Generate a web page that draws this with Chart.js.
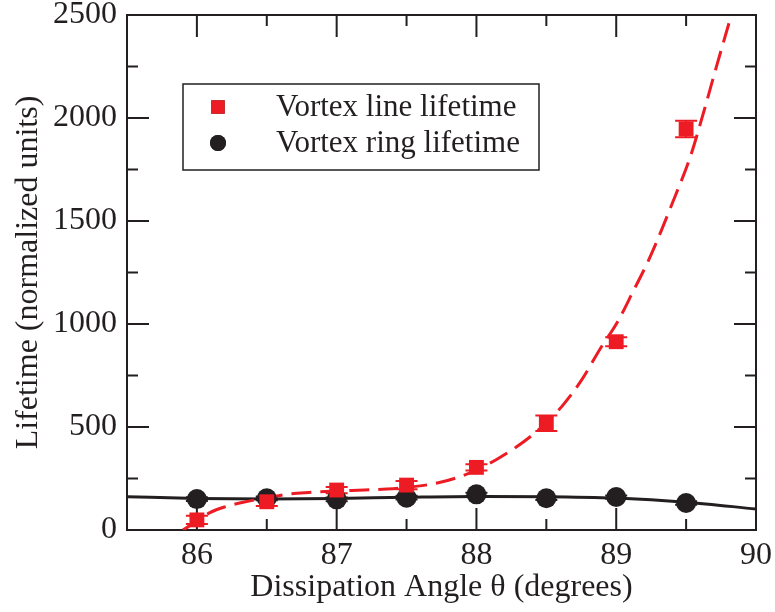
<!DOCTYPE html>
<html>
<head>
<meta charset="utf-8">
<script src="https://cdn.jsdelivr.net/npm/chart.js@4.4.1/dist/chart.umd.min.js"></script>
<style>
html, body { margin: 0; padding: 0; background: #fff; }
</style>
</head>
<body>
<canvas id="chart" width="775" height="612"></canvas>
<script>
// measured points
const angles = [86, 86.5, 87, 87.5, 88, 88.5, 89, 89.5];
const lineLife = [49, 137, 194, 218, 304, 518, 914, 1947];
const lineErr = [20, 20, 15, 20, 15, 38, 22, 40];
const ringLife = [150, 154, 149, 157, 173, 154, 160, 131];
const ringErr = [9, 9, 9, 9, 8, 8, 8, 8];

// fit curves
const lineFitX = [85.90, 86.0, 86.09, 86.2, 86.34, 86.5, 86.64, 86.8, 87.0, 87.2, 87.36, 87.5, 87.72, 87.9, 88.03, 88.15, 88.28, 88.45, 88.61, 88.76, 88.88, 89.01, 89.12, 89.24, 89.42, 89.53, 89.63, 89.72, 89.82, 89.86];
const lineFitY = [0, 42, 83, 112, 136, 156, 173, 182, 189, 194, 199, 207, 228, 263, 301, 345, 400, 490, 599, 736, 874, 1011, 1157, 1322, 1618, 1812, 2039, 2257, 2492, 2590];
const ringFitX = [85.5, 86, 86.5, 87, 87.5, 88, 88.5, 89, 89.5, 90];
const ringFitY = [162, 153, 150, 153, 159, 163, 162, 155, 135, 102];

// axes
const xMajor = [86, 87, 88, 89, 90];
const xMinor = [85.5, 86.5, 87.5, 88.5, 89.5];
const yMajor = [0, 500, 1000, 1500, 2000, 2500];
const yMinor = [250, 750, 1250, 1750, 2250];

const RED = '#ed1c24';
const INK = '#231f20';
const FONT = 'Liberation Serif, Times New Roman, serif';

const pts = (xs, ys) => xs.map((v, i) => ({ x: v, y: ys[i] }));

const frameTicks = {
    id: 'frameTicks',
    beforeDatasetsDraw(chart) {
        const { ctx, chartArea: a, scales: { x, y } } = chart;
        ctx.save();
        ctx.strokeStyle = INK;
        ctx.lineWidth = 2;
        const xt = (vals, len) => vals.forEach(v => {
            const p = x.getPixelForValue(v);
            ctx.beginPath();
            ctx.moveTo(p, a.bottom); ctx.lineTo(p, a.bottom - len);
            ctx.moveTo(p, a.top); ctx.lineTo(p, a.top + len);
            ctx.stroke();
        });
        const yt = (vals, len) => vals.forEach(v => {
            const p = y.getPixelForValue(v);
            ctx.beginPath();
            ctx.moveTo(a.left, p); ctx.lineTo(a.left + len, p);
            ctx.moveTo(a.right, p); ctx.lineTo(a.right - len, p);
            ctx.stroke();
        });
        xt(xMajor, 22); xt(xMinor, 11);
        yt(yMajor, 22); yt(yMinor, 11);
        ctx.strokeRect(a.left, a.top, a.right - a.left, a.bottom - a.top);

        // error bars
        chart.data.datasets.forEach(ds => {
            if (!ds.errors) return;
            ctx.strokeStyle = ds.backgroundColor;
            ctx.lineWidth = 2;
            ds.data.forEach((d, i) => {
                const px = x.getPixelForValue(d.x);
                const lo = y.getPixelForValue(d.y - ds.errors[i]);
                const hi = y.getPixelForValue(d.y + ds.errors[i]);
                const w = ds.capWidth / 2;
                ctx.beginPath();
                ctx.moveTo(px, lo); ctx.lineTo(px, hi);
                ctx.moveTo(px - w, lo); ctx.lineTo(px + w, lo);
                ctx.moveTo(px - w, hi); ctx.lineTo(px + w, hi);
                ctx.stroke();
            });
        });
        ctx.restore();
    },
    afterDraw(chart) {
        const { ctx, chartArea: a } = chart;
        const items = chart.data.datasets.filter(ds => ds.inLegend);
        const bx = a.left + 56, by = a.top + 69, bw = 356, bh = 86;
        ctx.save();
        ctx.fillStyle = '#fff';
        ctx.fillRect(bx, by, bw, bh);
        ctx.strokeStyle = INK;
        ctx.lineWidth = 1.5;
        ctx.strokeRect(bx, by, bw, bh);
        ctx.font = '31px ' + FONT;
        ctx.textBaseline = 'middle';
        ctx.fillStyle = INK;
        items.forEach((ds, i) => {
            const cy = by + 23 + i * 36;
            Chart.helpers.drawPoint(ctx, {
                pointStyle: ds.pointStyle,
                radius: ds.legendRadius,
                borderWidth: 0,
                rotation: 0
            }, bx + 35, cy);
            ctx.fillStyle = ds.backgroundColor;
            ctx.fill();
            ctx.fillStyle = INK;
            ctx.fillText(ds.label, bx + 93, cy + 1);
        });
        ctx.restore();
    }
};

new Chart(document.getElementById('chart'), {
    type: 'scatter',
    data: {
        datasets: [
            {
                label: 'Vortex line lifetime',
                data: pts(angles, lineLife),
                errors: lineErr,
                capWidth: 22,
                inLegend: true,
                pointStyle: 'rect',
                pointRadius: 10.5,
                legendRadius: 9.5,
                backgroundColor: RED,
                borderWidth: 0,
            },
            {
                label: 'Vortex ring lifetime',
                data: pts(angles, ringLife),
                errors: ringErr,
                capWidth: 22,
                inLegend: true,
                pointStyle: 'circle',
                pointRadius: 10,
                legendRadius: 8,
                backgroundColor: INK,
                borderWidth: 0,
            },
            {
                type: 'line',
                label: 'line fit',
                data: pts(lineFitX, lineFitY),
                borderColor: RED,
                borderWidth: 3,
                borderDash: [20, 9],
                pointRadius: 0,
                cubicInterpolationMode: 'monotone',
                fill: false,
            },
            {
                type: 'line',
                label: 'ring fit',
                data: pts(ringFitX, ringFitY),
                borderColor: INK,
                borderWidth: 3,
                pointRadius: 0,
                cubicInterpolationMode: 'monotone',
                fill: false,
            },
        ],
    },
    options: {
        responsive: false,
        animation: false,
        layout: { padding: { top: 15, right: 19, left: 0, bottom: 0 } },
        plugins: { legend: { display: false }, tooltip: { enabled: false } },
        scales: {
            x: {
                type: 'linear',
                min: 85.5,
                max: 90,
                afterBuildTicks: s => { s.ticks = xMajor.map(v => ({ value: v })); },
                afterFit: s => { s.height = 82; s.paddingLeft = 0; s.paddingRight = 0; },
                grid: { display: false, drawTicks: false },
                border: { display: false },
                ticks: { color: INK, padding: 6, maxRotation: 0, autoSkip: false, callback: v => String(v), font: { family: FONT, size: 32 } },
                title: { display: true, text: 'Dissipation Angle θ (degrees)', color: INK, padding: { top: 0, bottom: 5 }, font: { family: FONT, size: 32 } },
            },
            y: {
                min: 0,
                max: 2500,
                afterBuildTicks: s => { s.ticks = yMajor.map(v => ({ value: v })); },
                afterFit: s => { s.width = 127; s.paddingTop = 0; s.paddingBottom = 0; },
                grid: { display: false, drawTicks: false },
                border: { display: false },
                ticks: { color: INK, padding: 10, callback: v => String(v), font: { family: FONT, size: 32 } },
                title: { display: true, text: 'Lifetime (normalized units)', color: INK, padding: { top: 9, bottom: 0 }, font: { family: FONT, size: 32 } },
            },
        },
    },
    plugins: [frameTicks],
});
</script>
</body>
</html>
